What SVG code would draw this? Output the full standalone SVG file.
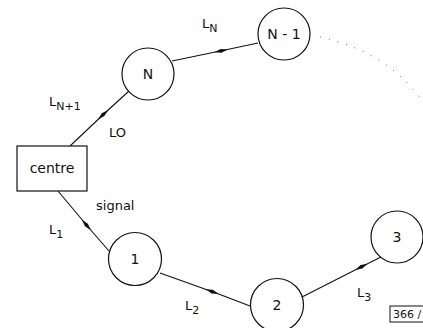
<svg xmlns="http://www.w3.org/2000/svg" width="423" height="328" viewBox="0 0 423 328">
<style>
  .node { fill: #fff; stroke: #111; stroke-width: 1.2; }
  .edge { fill: none; stroke: #111; stroke-width: 1.1; marker-mid: url(#arr); }
  .lbl { font-family: "DejaVu Sans", "Liberation Sans", sans-serif; font-size: 13px; fill: #111; }
  .sub { font-size: 11px; }
  .ntxt { font-family: "DejaVu Sans", "Liberation Sans", sans-serif; font-size: 14px; fill: #111; text-anchor: middle; }
  .dots { fill: none; stroke: #555; stroke-width: 1; stroke-dasharray: 1 8; }
</style>
<defs>
  <marker id="arr" viewBox="0 0 14 5" refX="11" refY="2.5" markerWidth="14" markerHeight="5" markerUnits="userSpaceOnUse" orient="auto">
    <path d="M0,2.5 L7,0.6 L14,2.5 L7,4.4 Z" fill="#111"/>
  </marker>
</defs>
<rect width="423" height="328" fill="#fff"/>
<g id="connectors">
  <polyline class="edge" points="70,146 106,112 129,91"/>
  <polyline class="edge" points="172,61 225,50 258,43"/>
  <polyline class="edge" points="58,191 89,228 109,251"/>
  <polyline class="edge" points="160,273 216,293 250,306"/>
  <polyline class="edge" points="302,297 365,265 381,257"/>
  <path class="dots" d="M320,37 Q388,52 423,102"/>
</g>
<g id="centre">
  <rect class="node" x="17" y="146" width="70" height="45"/>
  <text class="ntxt" x="52" y="173">centre</text>
</g>
<g id="nodeN">
  <circle class="node" cx="148" cy="74" r="26"/>
  <text class="ntxt" x="148" y="79">N</text>
</g>
<g id="nodeN-1">
  <circle class="node" cx="284" cy="34" r="26"/>
  <text class="ntxt" x="284" y="39">N - 1</text>
</g>
<g id="node1">
  <circle class="node" cx="135" cy="259" r="26.5"/>
  <text class="ntxt" x="135" y="264">1</text>
</g>
<g id="node2">
  <circle class="node" cx="277" cy="305" r="26.5"/>
  <text class="ntxt" x="277" y="310">2</text>
</g>
<g id="node3">
  <circle class="node" cx="397" cy="237" r="26"/>
  <text class="ntxt" x="397" y="242">3</text>
</g>
<g id="labels">
  <text class="lbl" x="202" y="28">L<tspan class="sub" dy="4">N</tspan></text>
  <text class="lbl" x="49" y="106">L<tspan class="sub" dy="4">N+1</tspan></text>
  <text class="lbl" x="109" y="137">LO</text>
  <text class="lbl" x="96" y="210">signal</text>
  <text class="lbl" x="49" y="234">L<tspan class="sub" dy="4">1</tspan></text>
  <text class="lbl" x="185" y="310">L<tspan class="sub" dy="4">2</tspan></text>
  <text class="lbl" x="357" y="297">L<tspan class="sub" dy="4">3</tspan></text>
</g>
<g id="ref">
  <rect x="390" y="306" width="40" height="16" fill="none" stroke="#111" stroke-width="1"/>
  <text class="lbl" x="393" y="318" style="font-size:11px">366 /</text>
</g>
</svg>
